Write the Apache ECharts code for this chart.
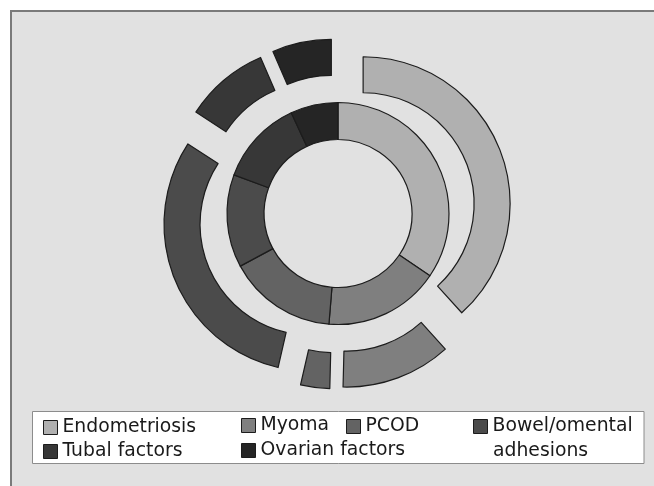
<!DOCTYPE html>
<html>
<head>
<meta charset="utf-8">
<script src="https://cdn.jsdelivr.net/npm/echarts@6/dist/echarts.min.js"></script>
<style>
  html, body { margin: 0; padding: 0; background: #ffffff; }
  #chart { width: 654px; height: 486px; }
</style>
</head>
<body>
<div id="chart"></div>
<script>
// Causes, in drawing order (clockwise from 12 o'clock)
const categories = ['Endometriosis', 'Myoma', 'PCOD', 'Bowel/omental adhesions', 'Tubal factors', 'Ovarian factors'];
// Inner ring shares (%)
const innerValues = [34.4, 16.8, 15.8, 13.5, 12.4, 6.9];
// Outer ring shares (%)
const outerValues = [38.3, 12.1, 3.2, 30.6, 9.3, 6.5];
// Grey shade per cause
const shades = ['#b0b0b0', '#7f7f7f', '#636363', '#4b4b4b', '#373737', '#252525'];

const FONT = 'DejaVu Sans';
const edge = { borderColor: '#1c1c1c', borderWidth: 1.2 };

function ringData(values, exploded) {
  return categories.map((name, i) => ({
    name: name,
    value: values[i],
    selected: exploded,
    itemStyle: Object.assign({ color: shades[i] }, edge)
  }));
}

// One legend block per entry so each sits at its own spot in the key box
const legendSpots = [
  { name: 'Endometriosis', left: 43, top: 418 },
  { name: 'Myoma', left: 241, top: 416 },
  { name: 'PCOD', left: 346, top: 417 },
  { name: 'Bowel/omental adhesions', left: 473, top: 417, label: 'Bowel/omental' },
  { name: 'Tubal factors', left: 43, top: 442 },
  { name: 'Ovarian factors', left: 241, top: 441 }
];

const legends = legendSpots.map(s => ({
  data: [s.name],
  left: s.left,
  top: s.top,
  padding: 0,
  icon: 'rect',
  itemWidth: 14,
  itemHeight: 14,
  selectedMode: false,
  formatter: s.label ? () => s.label : '{name}',
  itemStyle: { borderColor: '#1c1c1c', borderWidth: 1 },
  textStyle: { fontFamily: FONT, fontSize: 18.8, color: '#1a1a1a' }
}));

const chart = echarts.init(document.getElementById('chart'), null, { renderer: 'canvas' });
chart.setOption({
  animation: false,
  backgroundColor: '#ffffff',
  graphic: [
    {
      type: 'rect',
      z: -10,
      shape: { x: 11, y: 11, width: 700, height: 600 },
      style: { fill: '#e1e1e1', stroke: '#7a7a7a', lineWidth: 2 },
      silent: true
    },
    {
      type: 'rect',
      z: -5,
      shape: { x: 32.5, y: 411.5, width: 611.5, height: 52 },
      style: { fill: '#ffffff', stroke: '#8c8c8c', lineWidth: 1 },
      silent: true
    },
    {
      type: 'text',
      z: 10,
      left: 493,
      top: 442,
      style: { text: 'adhesions', fontFamily: FONT, fontSize: 18.8, fill: '#1a1a1a' },
      silent: true
    }
  ],
  legend: legends,
  series: [
    {
      name: 'Inner',
      type: 'pie',
      center: [338, 213.5],
      radius: [74, 111],
      startAngle: 90,
      clockwise: true,
      silent: true,
      label: { show: false },
      labelLine: { show: false },
      data: ringData(innerValues, false)
    },
    {
      name: 'Outer',
      type: 'pie',
      center: [337, 213.8],
      radius: [111, 147],
      startAngle: 90,
      clockwise: true,
      selectedMode: 'multiple',
      selectedOffset: 28,
      silent: true,
      label: { show: false },
      labelLine: { show: false },
      data: ringData(outerValues, true)
    }
  ]
});
</script>
</body>
</html>
